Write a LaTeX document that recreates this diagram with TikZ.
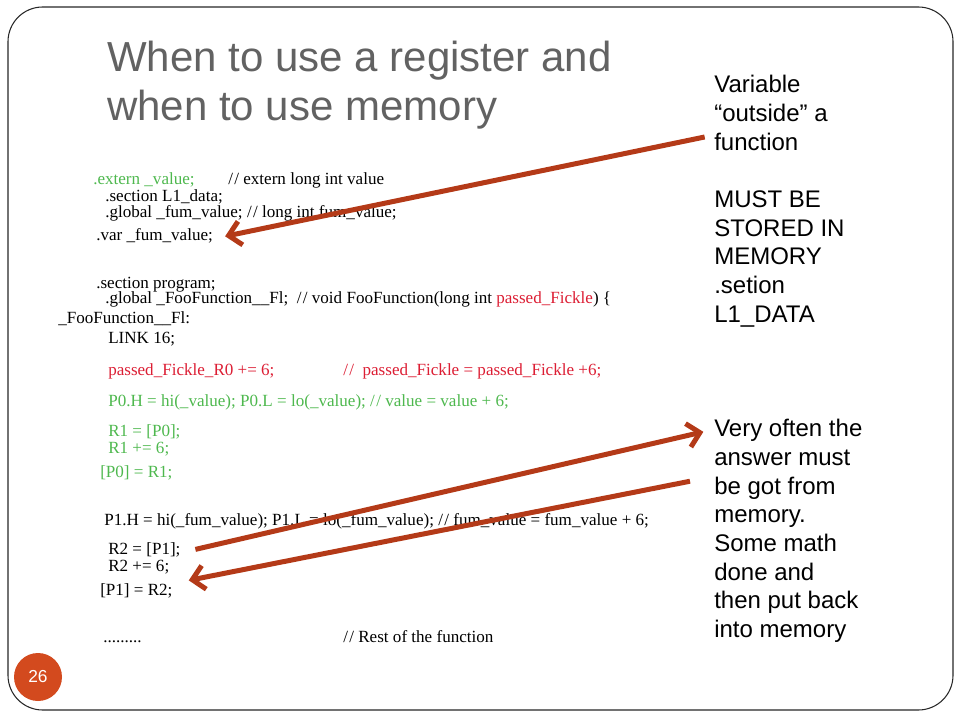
\documentclass[tikz,border=0pt]{standalone}
\usepackage{fontspec}
\setmainfont{Liberation Serif}
\newfontfamily\notefont{Liberation Sans}
\usetikzlibrary{arrows.meta}
\definecolor{codegreen}{RGB}{78,184,78}
\definecolor{codered}{RGB}{220,30,52}
\definecolor{arrowrust}{RGB}{180,58,24}
\definecolor{titlegrey}{RGB}{98,98,98}
\definecolor{badge}{RGB}{211,74,30}
\tikzset{
  code/.style={anchor=base west, inner sep=0pt, font=\fontsize{12.8}{14}\selectfont},
  note/.style={anchor=base west, inner sep=0pt, font=\notefont\fontsize{18}{21.5}\selectfont},
  heading/.style={anchor=base west, inner sep=0pt, text=titlegrey, font=\notefont\fontsize{31.5}{36}\selectfont},
  memarrow/.style={draw=arrowrust, line width=3.75pt, -{Straight Barb[length=9pt,width=18pt]}},
}
\begin{document}
\begin{tikzpicture}[x=0.75pt,y=-0.75pt]
	%%%%% FRAME %%%%%
	\useasboundingbox (0,0) rectangle (960,720);
	\draw[line width=0.8pt, color=black!85, rounded corners=26pt] (8,7) rectangle (953,710);
	\node[circle, fill=badge, minimum size=36pt, inner sep=0pt, text=white, font=\notefont\fontsize{13}{15}\selectfont] (page) at (38,677) {26};
	
	%%%%% TITLE %%%%%
	\node[heading] (title) at (107,72) {When to use a register and};
	\node[heading] (titlebis) at (107,121) {when to use memory};
	
	%%%%% CODE %%%%%
	\node[code, text=codegreen] (ext) at (93,185) {.extern \_value;};
	\node[code] (extc) at (228,185) {/\kern1pt/ extern long int value};
	\node[code] (secdata) at (105,202) {.section L1\_data;};
	\node[code] (glbfum) at (105,218) {.global \_fum\_value; /\kern1pt/ long int fum\_value;};
	\node[code] (var) at (96,241) {.var \_fum\_value;};
	
	\node[code] (secprog) at (96,288) {.section program;};
	\node[code] (glbfoo) at (105,303) {.global \_FooFunction\_\_Fl;~ /\kern1pt/ void FooFunction(long int \textcolor{codered}{passed\_Fickle}) \{};
	\node[code] (foolbl) at (58,323) {\_FooFunction\_\_Fl:};
	\node[code] (link) at (108,344) {LINK 16;};
	\node[code, text=codered] (addr) at (108,375) {passed\_Fickle\_R0 += 6;};
	\node[code, text=codered] (addrc) at (343,375) {/\kern1pt/~ passed\_Fickle = passed\_Fickle +6;};
	\node[code, text=codegreen] (ptrzero) at (108,406) {P0.H = hi(\_value); P0.L = lo(\_value); /\kern1pt/ value = value + 6;};
	\node[code, text=codegreen] (ldone) at (108,436) {R1 = [P0];};
	\node[code, text=codegreen] (addone) at (108,453) {R1 += 6;};
	\node[code, text=codegreen] (stone) at (100,477) {[P0] = R1;};
	
	\node[code] (ptrone) at (104,525) {P1.H = hi(\_fum\_value); P1.L = lo(\_fum\_value); /\kern1pt/ fum\_value = fum\_value + 6;};
	\node[code] (ldtwo) at (108,554) {R2 = [P1];};
	\node[code] (addtwo) at (108,571) {R2 += 6;};
	\node[code] (sttwo) at (100,595) {[P1] = R2;};
	\node[code] (rest) at (103,642) {.........};
	\node[code] (restc) at (343,642) {/\kern1pt/ Rest of the function};
	
	%%%%% NOTES %%%%%
	\node[note] (nvar) at (714,92.7) {Variable};
	\node[note] (nout) at (714,121.4) {“outside” a};
	\node[note] (nfn) at (714,150.1) {function};
	\node[note] (nmust) at (714,207.5) {MUST BE};
	\node[note] (nstor) at (714,236.2) {STORED IN};
	\node[note] (nmem) at (714,264.9) {MEMORY};
	\node[note] (nsec) at (714,293.6) {.setion};
	\node[note] (nldata) at (714,322.3) {L1\_DATA};
	
	\node[note] (noften) at (714,436.7) {Very often the};
	\node[note] (nans) at (714,465.4) {answer must};
	\node[note] (ngot) at (714,494.1) {be got from};
	\node[note] (nmemo) at (714,522.8) {memory.};
	\node[note] (nmath) at (714,551.5) {Some math};
	\node[note] (ndone) at (714,580.2) {done and};
	\node[note] (nback) at (714,608.9) {then put back};
	\node[note] (ninto) at (714,637.6) {into memory};
	
	%%%%% ARROWS %%%%%
	\draw[memarrow] ([xshift=-7pt,yshift=3.4pt]nfn.west) -- ([xshift=9pt]var.east);
	\draw[memarrow] ([xshift=11pt]ldtwo.east) -- ([xshift=-8pt,yshift=-1pt]noften.west);
	\draw[memarrow] ([xshift=-18pt,yshift=5pt]ngot.west) -- ([xshift=12pt,yshift=7.5pt]sttwo.east);
\end{tikzpicture}
\end{document}
